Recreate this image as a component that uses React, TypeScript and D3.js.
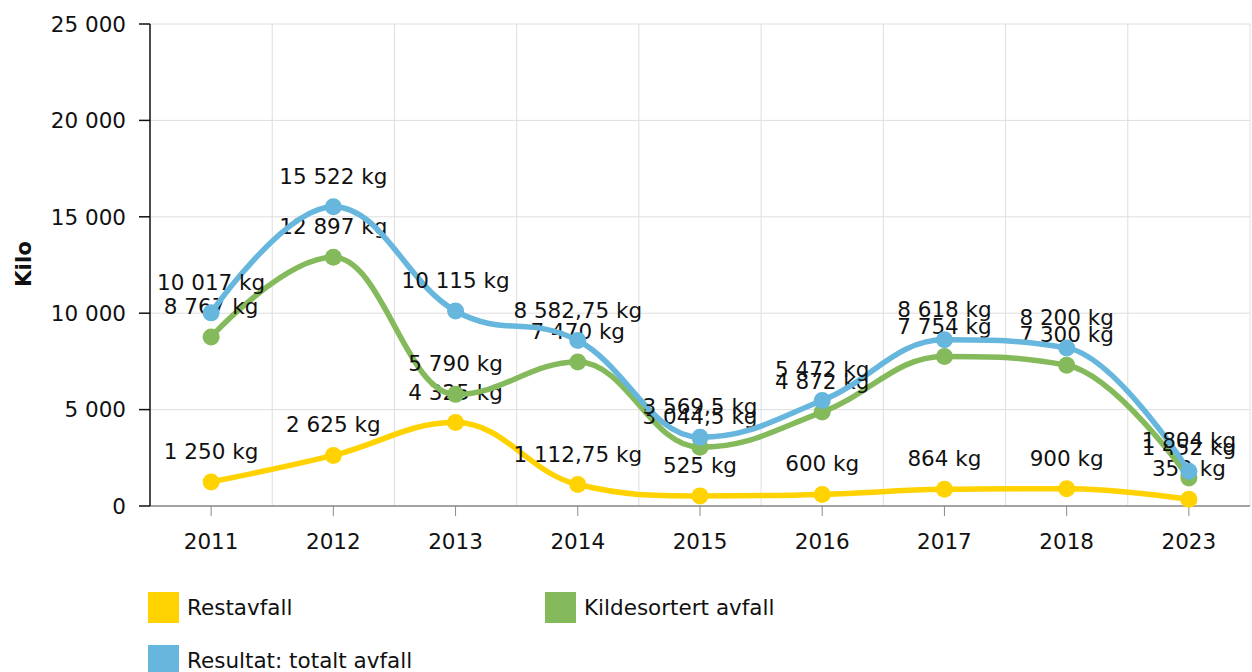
import React from "react";
import * as d3 from "d3";

const years = ["2011", "2012", "2013", "2014", "2015", "2016", "2017", "2018", "2023"];
const restavfall = [1250, 2625, 4325, 1112.75, 525, 600, 864, 900, 352];
const kildesortert = [8767, 12897, 5790, 7470, 3044.5, 4872, 7754, 7300, 1452];
const totalt = [10017, 15522, 10115, 8582.75, 3569.5, 5472, 8618, 8200, 1804];
const yTicks = [0, 5000, 10000, 15000, 20000, 25000];

const seriesNames = ["Restavfall", "Kildesortert avfall", "Resultat: totalt avfall"];
const seriesColors = ["#FFD200", "#84BA5B", "#66B6DD"];

const W = 1252;
const H = 672;
const FONT = "'DejaVu Sans', Verdana, sans-serif";
const FS = 21.5;

// spline like the original tool draws it (smoothing 1.5, no false extremes)
function splineCurve(context: any) {
  let pts: number[][] = [];
  return {
    areaStart() {},
    areaEnd() {},
    lineStart() {
      pts = [];
    },
    point(x: number, y: number) {
      pts.push([+x, +y]);
    },
    lineEnd() {
      const n = pts.length;
      if (!n) return;
      const ctrl = pts.map(() => null as null | number[]);
      const smoothing = 1.5;
      const denom = smoothing + 1;
      for (let i = 1; i < n - 1; i++) {
        const [lx, ly] = pts[i - 1];
        const [px, py] = pts[i];
        const [nx, ny] = pts[i + 1];
        const lcx = (smoothing * px + lx) / denom;
        let lcy = (smoothing * py + ly) / denom;
        const rcx = (smoothing * px + nx) / denom;
        let rcy = (smoothing * py + ny) / denom;
        let corr = 0;
        if (rcx !== lcx) corr = ((rcy - lcy) * (rcx - px)) / (rcx - lcx) + py - rcy;
        lcy += corr;
        rcy += corr;
        if (lcy > ly && lcy > py) {
          lcy = Math.max(ly, py);
          rcy = 2 * py - lcy;
        } else if (lcy < ly && lcy < py) {
          lcy = Math.min(ly, py);
          rcy = 2 * py - lcy;
        }
        if (rcy > ny && rcy > py) {
          rcy = Math.max(ny, py);
          lcy = 2 * py - rcy;
        } else if (rcy < ny && rcy < py) {
          rcy = Math.min(ny, py);
          lcy = 2 * py - rcy;
        }
        ctrl[i] = [lcx, lcy, rcx, rcy];
      }
      context.moveTo(pts[0][0], pts[0][1]);
      for (let i = 1; i < n; i++) {
        const prev = ctrl[i - 1];
        const cur = ctrl[i];
        const [x0, y0] = pts[i - 1];
        const [x1, y1] = pts[i];
        context.bezierCurveTo(
          prev ? prev[2] : x0,
          prev ? prev[3] : y0,
          cur ? cur[0] : x1,
          cur ? cur[1] : y1,
          x1,
          y1
        );
      }
    },
  };
}

function fmt(v: number) {
  const [int, dec] = String(v).split(".");
  const grouped = int.replace(/\B(?=(\d{3})+(?!\d))/g, " ");
  return dec ? `${grouped},${dec}` : grouped;
}

export default function App() {
  const left = 150;
  const right = 1250;
  const top = 24;
  const bottom = 506;

  const x = d3.scaleBand<string>().domain(years).range([left, right]).padding(0);
  const cx = (d: string) => (x(d) as number) + x.bandwidth() / 2;
  const y = d3.scaleLinear().domain([0, 25000]).range([bottom, top]);

  const all = [restavfall, kildesortert, totalt];
  const line = d3
    .line<number>()
    .x((_, i) => cx(years[i]))
    .y((v) => y(v))
    .curve(splineCurve as any);

  const bounds = years.map((d) => x(d) as number).concat([right]);

  return (
    <svg
      width={W}
      height={H}
      style={{ position: "absolute", left: 0, top: 0, background: "#fff" }}
      fontFamily={FONT}
    >
      {/* grid */}
      {yTicks.map((t) => (
        <line key={"h" + t} x1={left} x2={right} y1={y(t)} y2={y(t)} stroke="#dedede" strokeWidth={1} />
      ))}
      {bounds.slice(1).map((b, i) => (
        <line key={"v" + i} x1={b} x2={b} y1={top} y2={bottom} stroke="#dedede" strokeWidth={1} />
      ))}

      {/* x axis */}
      <line x1={left} x2={right} y1={bottom} y2={bottom} stroke="#8a8a8a" strokeWidth={1.5} />
      {years.map((d) => (
        <g key={d}>
          <line x1={cx(d)} x2={cx(d)} y1={bottom} y2={bottom + 10} stroke="#8a8a8a" strokeWidth={1} />
          <text x={cx(d)} y={549} textAnchor="middle" fontSize={FS} fill="#111">
            {d}
          </text>
        </g>
      ))}

      {/* y axis */}
      <line x1={left} x2={left} y1={top} y2={bottom} stroke="#111" strokeWidth={1.5} />
      {yTicks.map((t) => (
        <g key={"y" + t}>
          <line x1={left - 11} x2={left} y1={y(t)} y2={y(t)} stroke="#111" strokeWidth={1.5} />
          <text x={126} y={y(t)} dy="0.36em" textAnchor="end" fontSize={FS} fill="#111">
            {fmt(t)}
          </text>
        </g>
      ))}
      <text
        transform={`translate(31,264) rotate(-90)`}
        textAnchor="middle"
        fontSize={FS}
        fontWeight="bold"
        fill="#111"
      >
        Kilo
      </text>

      {/* series: line, markers, then own labels; later series lie on top */}
      {all.map((s, si) => (
        <g key={"s" + si}>
          <path d={line(s) || ""} fill="none" stroke={seriesColors[si]} strokeWidth={5.5} strokeLinejoin="round" />
          {s.map((v, i) => (
            <circle key={i} cx={cx(years[i])} cy={y(v)} r={8.5} fill={seriesColors[si]} />
          ))}
          {s.map((v, i) => (
            <text
              key={"l" + i}
              x={cx(years[i])}
              y={y(v) - 23}
              textAnchor="middle"
              fontSize={FS}
              fill="#111"
            >
              {fmt(v)} kg
            </text>
          ))}
        </g>
      ))}

      {/* legend */}
      {seriesNames.map((name, i) => {
        const lx = i === 1 ? 545 : 148;
        const ly = i === 2 ? 645 : 592;
        return (
          <g key={name}>
            <rect x={lx} y={ly} width={31} height={31} fill={seriesColors[i]} />
            <text x={lx + 39} y={ly + 23} fontSize={FS} fill="#111">
              {name}
            </text>
          </g>
        );
      })}
    </svg>
  );
}
